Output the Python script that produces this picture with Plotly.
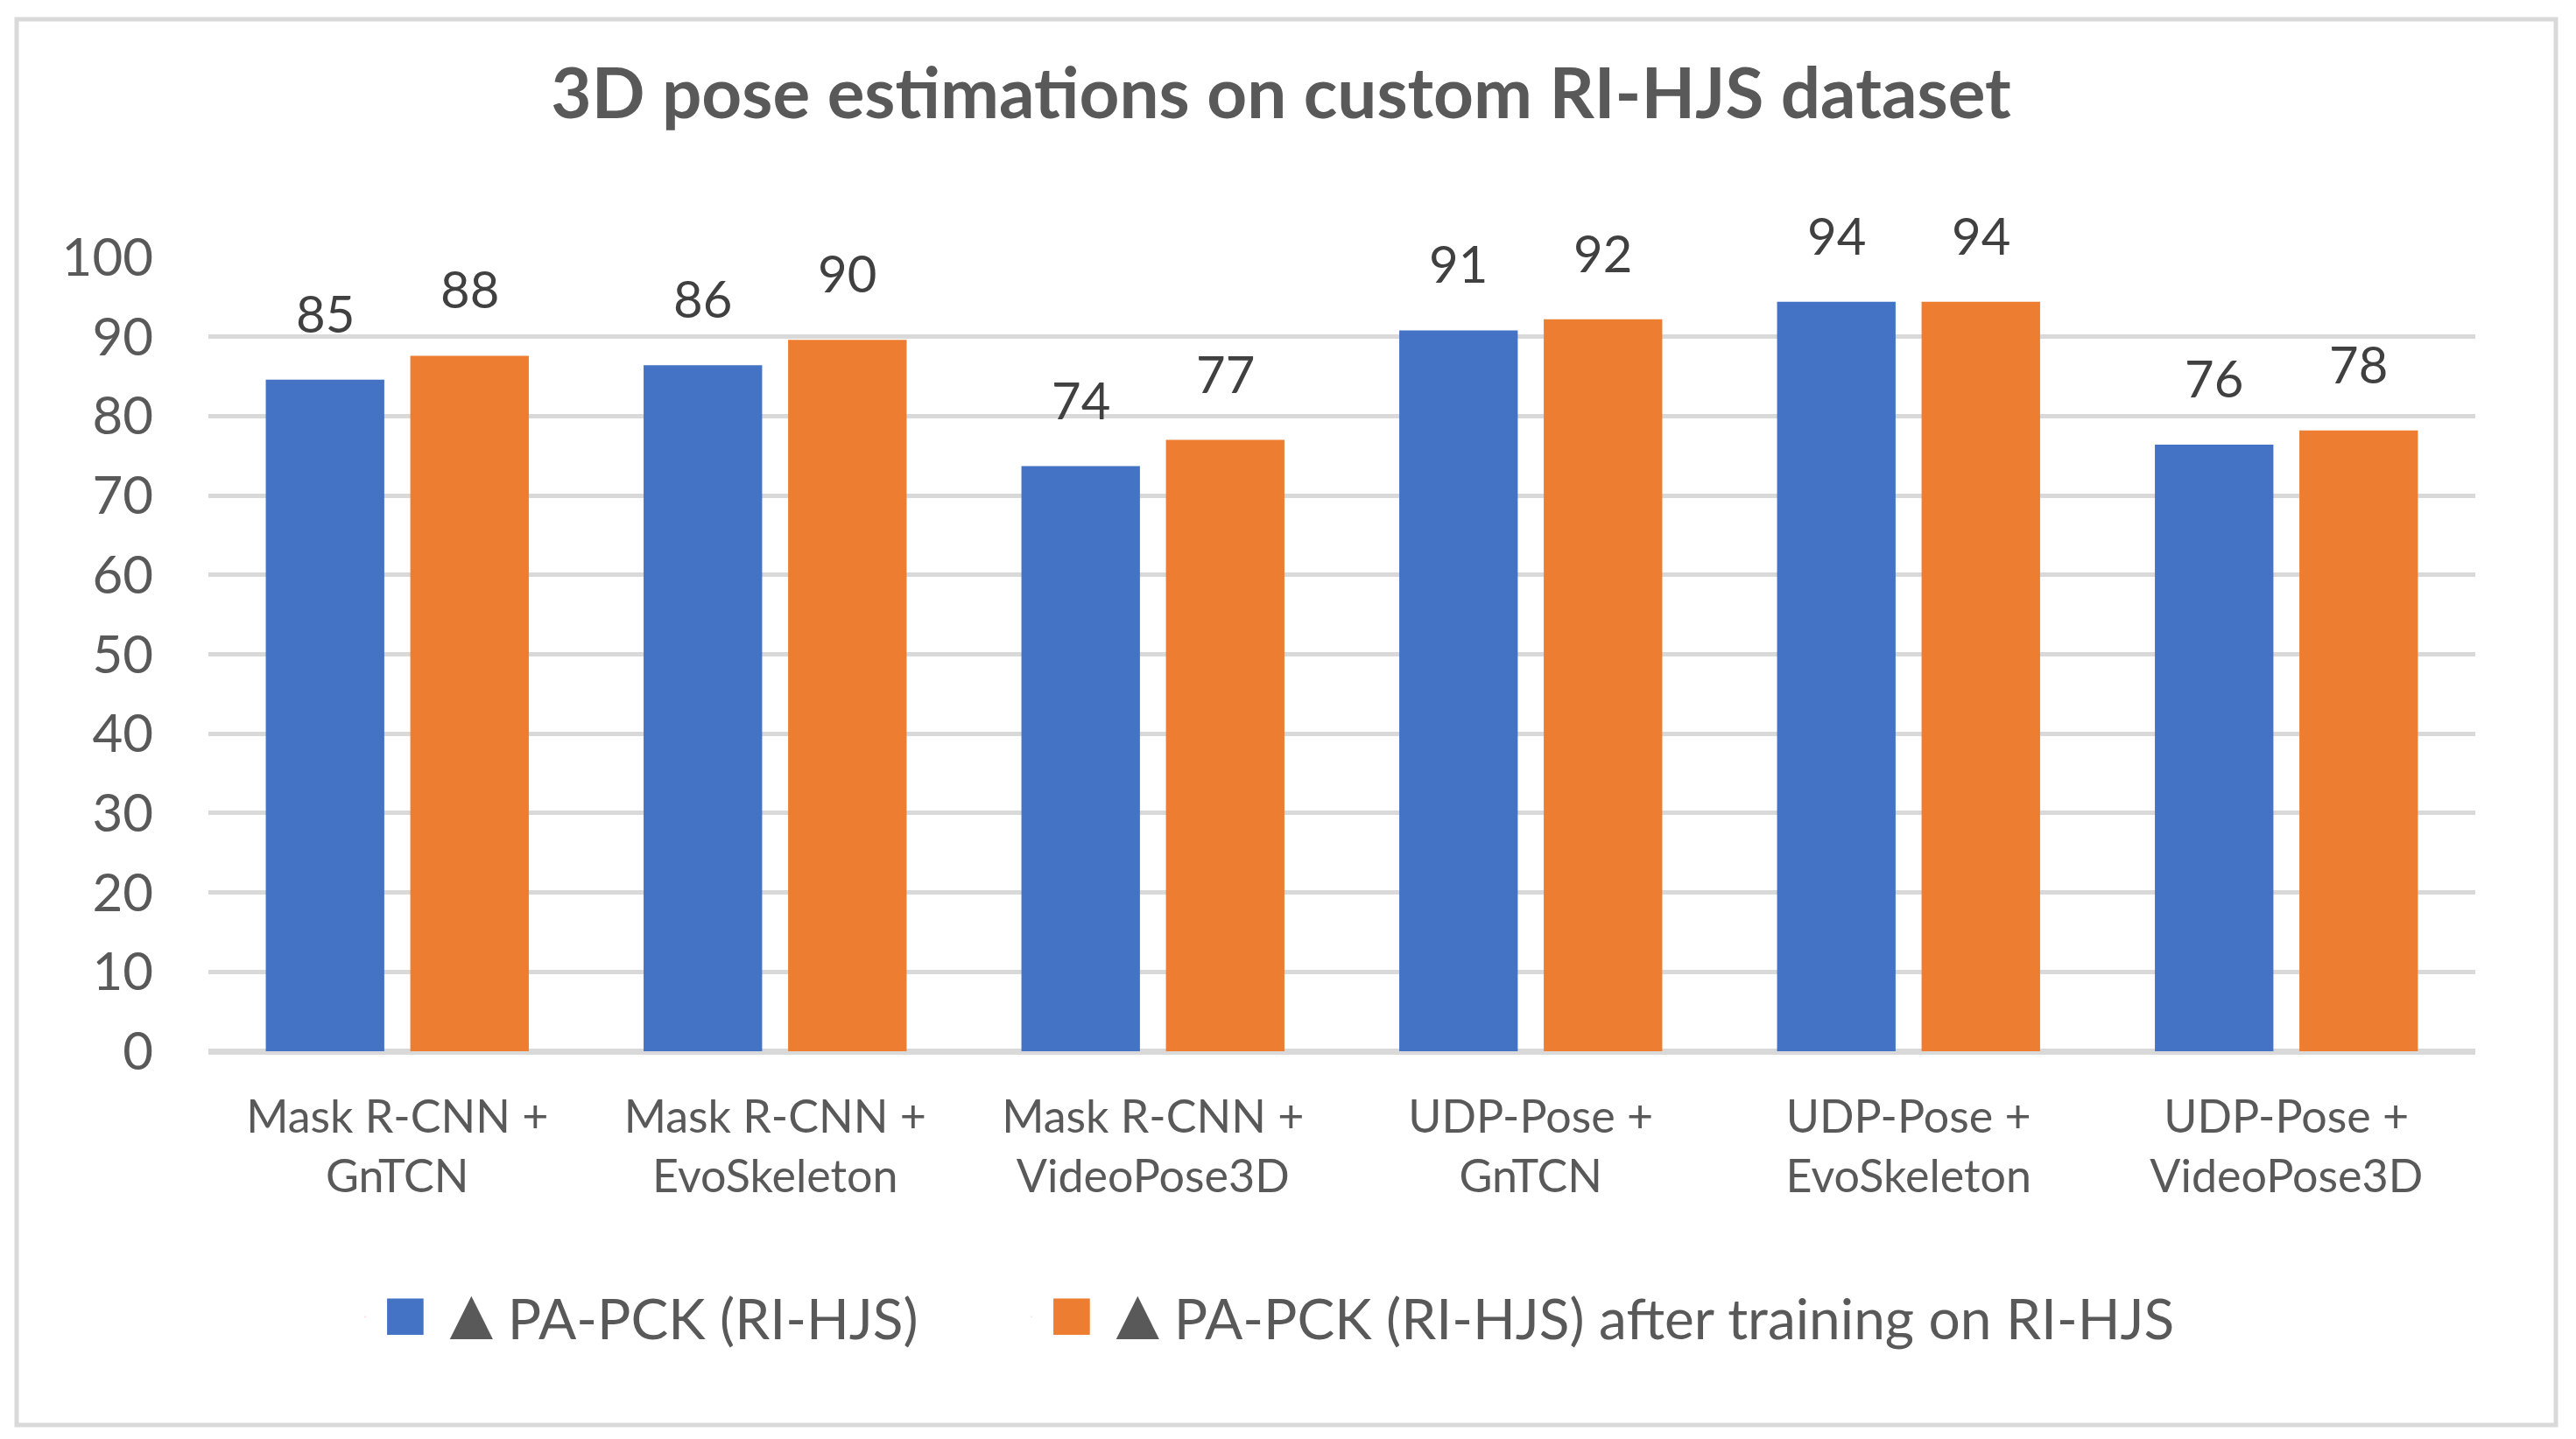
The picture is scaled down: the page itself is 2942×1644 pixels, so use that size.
import plotly.graph_objects as go

categories = ["Mask R-CNN +<br>GnTCN", "Mask R-CNN +<br>EvoSkeleton", "Mask R-CNN +<br>VideoPose3D",
              "UDP-Pose +<br>GnTCN", "UDP-Pose +<br>EvoSkeleton", "UDP-Pose +<br>VideoPose3D"]
series_names = ["▲PA-PCK (RI-HJS)", "▲PA-PCK (RI-HJS) after training on RI-HJS"]
before_vals = [84.6, 86.4, 73.7, 90.8, 94.4, 76.4]
after_vals = [87.6, 89.6, 77.0, 92.2, 94.4, 78.2]
series_colors = ["#4472C4", "#ED7D31"]
y_ticks = [0, 10, 20, 30, 40, 50, 60, 70, 80, 90, 100]

W, H = 2942, 1644
OFF = 8  # default page body margin
L, R, T, B = 238 - OFF, 115 + OFF, 294 - OFF, 443 + OFF
FONT = "Lato"
GRAY = "#595959"
BARGAP = 0.235
BARGROUPGAP = 0.18

pw = W - L - R
ph = H - T - B

legend_ids = ["legend", "legend2"]
legend_left_px = [389, 1150]  # figure px of each legend's left edge

fig = go.Figure()
series = [before_vals, after_vals]
for k, (name, vals, color) in enumerate(zip(series_names, series, series_colors)):
    fig.add_trace(go.Bar(
        x=categories, y=vals, name=name, showlegend=False,
        marker=dict(color=color, line=dict(width=0)),
    ))
    label = name.replace("▲", "<span style='font-size:84px'>▲</span>", 1)
    fig.add_trace(go.Scatter(
        x=[None], y=[None], mode="markers",
        marker=dict(opacity=0, size=2),
        name=(f"<span style='color:{color};font-size:86px'>■</span>"
              f"<span style='font-size:30px'> </span>{label}"),
        showlegend=True, legend=legend_ids[k],
    ))

# data labels above each bar, placed on the bar's grouped position
n_series = len(series)
slot = (1 - BARGAP) / n_series
for k, vals in enumerate(series):
    for i, v in enumerate(vals):
        xpos = i - (1 - BARGAP) / 2 + slot * (k + 0.5)
        fig.add_annotation(
            x=xpos, y=v, xref="x", yref="y",
            text=str(int(round(v))), showarrow=False,
            yanchor="bottom", yshift=40,
            font=dict(family=FONT, size=58, color="#404040"),
        )

legend_common = dict(orientation="h", xanchor="left",
                     y=-(1505 - OFF - (H - B)) / ph, yanchor="middle",
                     font=dict(family=FONT, size=64, color=GRAY),
                     itemwidth=30, bgcolor="rgba(0,0,0,0)")

fig.update_layout(
    width=W, height=H,
    margin=dict(l=L, r=R, t=T, b=B),
    paper_bgcolor="white", plot_bgcolor="white",
    barmode="group", bargap=BARGAP, bargroupgap=BARGROUPGAP,
    title=dict(text="<b>3D pose estimations on custom RI-HJS dataset</b>",
               x=(1463 - OFF) / W, xref="container", xanchor="center",
               y=1 - (107 - OFF) / H, yref="container", yanchor="middle",
               font=dict(family=FONT, size=80, color=GRAY)),
    font=dict(family=FONT, color=GRAY),
    xaxis=dict(tickfont=dict(family=FONT, size=52, color=GRAY),
               showline=False, showgrid=False, ticks="", ticklabelstandoff=40,
               range=[-0.5, len(categories) - 0.5]),
    yaxis=dict(range=[0, 100], tickvals=y_ticks,
               tickfont=dict(family=FONT, size=60, color=GRAY),
               showgrid=True, gridcolor="#D9D9D9", gridwidth=5,
               zeroline=True, zerolinecolor="#D9D9D9", zerolinewidth=7,
               showline=False, ticks="", ticklabelstandoff=62),
    legend=dict(x=(legend_left_px[0] - L) / pw, **legend_common),
    legend2=dict(x=(legend_left_px[1] - L) / pw, **legend_common),
    showlegend=True,
    shapes=[dict(type="rect", xref="paper", yref="paper",
                 x0=(19 - OFF - L) / pw, x1=(2919 - OFF - L) / pw,
                 y0=-(1628 - OFF - (H - B)) / ph, y1=((H - B) - (22 - OFF)) / ph,
                 line=dict(color="#D9D9D9", width=5), fillcolor="rgba(0,0,0,0)",
                 layer="below")],
)

fig.write_html("out.html")
